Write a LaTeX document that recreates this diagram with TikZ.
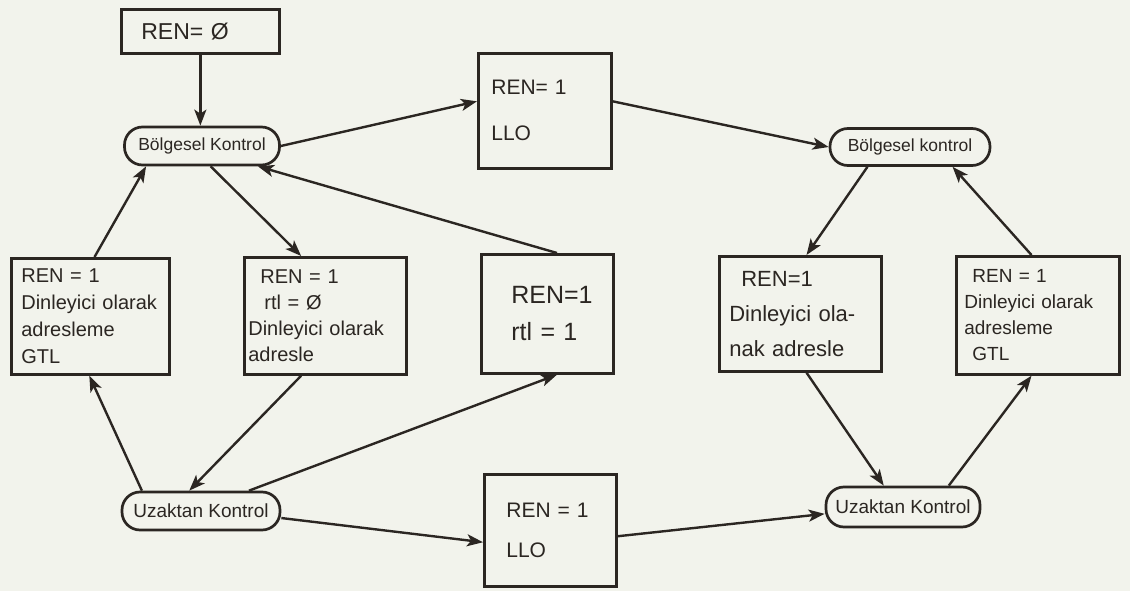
\documentclass[tikz,border=0pt]{standalone}
\usepackage{fontspec}
\setmainfont{Liberation Sans}
\usepackage{tikz}
\usetikzlibrary{arrows.meta}
\definecolor{kagit}{RGB}{242,243,236}
\definecolor{murekkep}{RGB}{43,38,34}

\begin{document}
\begin{tikzpicture}[x=1pt,y=-1pt,murekkep,line width=2.4pt,
  kutu/.style={draw,line width=2.7pt,anchor=north west,align=left,inner ysep=0pt},
  durum/.style={draw,line width=2.7pt,rounded corners=18pt,inner sep=0pt,font=\fontsize{17.5}{19}\selectfont},
  ok/.style={-{Stealth[length=16pt,width=12pt,inset=4pt]}}]
\fill[kagit] (0,0) rectangle (1130,591);
\useasboundingbox (0,0) rectangle (1130,591);

% durum kutulari
\node[kutu,inner xsep=20pt,text width=118pt,minimum height=44pt,font=\fontsize{23}{26}\selectfont] (ren0) at (120,8) {REN= Ø};
\node[kutu,inner xsep=13pt,text width=107pt,minimum height=115pt,font=\fontsize{21}{46}\selectfont] (llo1) at (477,52) {REN= 1\\LLO};
\node[kutu,inner xsep=10pt,text width=138pt,minimum height=116pt,font=\fontsize{20}{27}\selectfont] (gtl1) at (10,257) {REN = 1\\Dinleyici olarak\\adresleme\\GTL};
\node[kutu,inner xsep=4pt,text width=154pt,minimum height=117pt,font=\fontsize{20}{26}\selectfont] (rtl0) at (243,256) {\hspace*{12pt}REN = 1\\\hspace*{16pt}rtl = Ø\\Dinleyici olarak\\adresle};
\node[kutu,inner xsep=30pt,text width=72pt,minimum height=119pt,font=\fontsize{25}{37}\selectfont] (rtl1) at (480,253) {REN=1\\rtl = 1};
\node[kutu,inner xsep=10pt,text width=142pt,minimum height=115pt,font=\fontsize{22}{35}\selectfont] (adr2) at (718,255) {\hspace*{12pt}REN=1\\Dinleyici ola-\\nak adresle};
\node[kutu,inner xsep=8pt,text width=147pt,minimum height=118pt,font=\fontsize{19}{26}\selectfont] (gtl2) at (955,255) {\hspace*{8pt}REN = 1\\Dinleyici olarak\\adresleme\\\hspace*{8pt}GTL};
\node[kutu,inner xsep=22pt,text width=88pt,minimum height=112pt,font=\fontsize{21}{40}\selectfont] (llo2) at (483,473) {REN = 1\\LLO};

% kontrol durumlari
\node[durum,minimum width=155pt,minimum height=38pt] (bk1) at (202,146) {Bölgesel Kontrol};
\node[durum,minimum width=160pt,minimum height=37pt] (bk2) at (910,147) {Bölgesel kontrol};
\node[durum,minimum width=158pt,minimum height=38pt,font=\fontsize{19}{21}\selectfont] (uk1) at (201,511) {Uzaktan Kontrol};
\node[durum,minimum width=154pt,minimum height=40pt,font=\fontsize{19}{21}\selectfont] (uk2) at (903,507) {Uzaktan Kontrol};

% gecisler
\draw[ok] (ren0.south) -- (ren0.south |- bk1.north);
\foreach \a/\b in {bk1.east/llo1.172, llo1.8/bk2.west, bk2.-155/adr2.84, gtl2.96/bk2.-25,
  adr2.-84/uk2.132, uk2.25/gtl2.-96, llo2.-5/uk2.185, uk1.-5/llo2.190, uk1.23/rtl1.-81,
  rtl1.81/bk1.-20, bk1.-67/rtl0.112, rtl0.-112/uk1.120, uk1.161/gtl1.-91, gtl1.86/bk1.-160}
  \draw[ok] (\a) -- (\b);
\end{tikzpicture}
\end{document}
